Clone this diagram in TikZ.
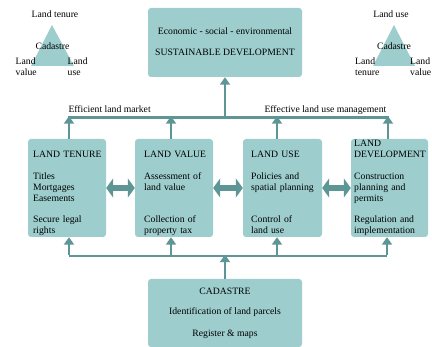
\documentclass[tikz,border=0pt]{standalone}
\usepackage{fontspec}
\setmainfont{Liberation Serif}
\usetikzlibrary{arrows.meta}
\definecolor{boxfill}{RGB}{157,205,205}
\definecolor{linkcol}{RGB}{94,150,150}

\begin{document}
\begin{tikzpicture}[x=1pt,y=-1pt,
  font=\fontsize{9.7}{11}\selectfont,
  panel/.style={fill=boxfill, rounded corners=3pt, inner sep=0pt, draw=none},
  txt/.style={anchor=base west, inner sep=0pt, align=left, text width=80pt},
  ctxt/.style={anchor=base, inner sep=0pt},
  ltxt/.style={anchor=base west, inner sep=0pt, align=left},
  feed/.style={draw=linkcol, line width=2.6pt, -{Triangle[width=10pt,length=7.5pt]}},
  bus/.style={draw=linkcol, line width=2.6pt},
  swap/.style={draw=linkcol, line width=6pt,
    {Triangle[width=19pt,length=7pt]}-{Triangle[width=19pt,length=7pt]}}]

\useasboundingbox (0,0) rectangle (432,347);

% main panels
\node[panel, minimum width=154pt, minimum height=69pt] (top) at (225,42.5) {};
\node[panel, minimum width=78pt, minimum height=98pt] (b1) at (67,188) {};
\node[panel, minimum width=78pt, minimum height=98pt] (b2) at (174,188) {};
\node[panel, minimum width=79pt, minimum height=98pt] (b3) at (282.5,188) {};
\node[panel, minimum width=77pt, minimum height=98pt] (b4) at (389.5,188) {};
\node[panel, minimum width=154pt, minimum height=68pt] (cad) at (225,313) {};

% sustainable development
\node[ctxt] (sd1) at (225,34.8) {Economic - social - environmental};
\node[ctxt] (sd2) at (225,56) {SUSTAINABLE DEVELOPMENT};

% cadastre panel
\node[ctxt] (c1) at (225,294.3) {CADASTRE};
\node[ctxt] (c2) at (225,314.8) {Identification of land parcels};
\node[ctxt] (c3) at (225,336.5) {Register \& maps};

% land tenure
\node[txt] (t1) at (33,157.5) {LAND TENURE};
\node[txt] (t2) at (33,180) {Titles\\Mortgages\\Easements};
\node[txt] (t3) at (33,223) {Secure legal\\rights};
% land value
\node[txt] (v1) at (144,157.5) {LAND VALUE};
\node[txt] (v2) at (144,180) {Assessment of\\land value};
\node[txt] (v3) at (144,223) {Collection of\\property tax};
% land use
\node[txt] (u1) at (251,157.5) {LAND USE};
\node[txt] (u2) at (251,180) {Policies and\\spatial planning};
\node[txt] (u3) at (251,223) {Control of\\land use};
% land development
\node[txt] (d1) at (354,146.5) {LAND\\DEVELOPMENT};
\node[txt] (d2) at (354,180) {Construction\\planning and\\permits};
\node[txt] (d3) at (354,223) {Regulation and\\implementation};

% triangles
\fill[boxfill] (52,25) -- (74,66) -- (31,66) -- cycle;
\fill[boxfill] (394,25) -- (415,66) -- (373,66) -- cycle;
\node[ctxt] (lt1) at (55,18) {Land tenure};
\node[ctxt] (lt2) at (52.5,49.5) {Cadastre};
\node[ltxt] (lt3) at (15.5,75.5) {Land\\value};
\node[ltxt] (lt4) at (67.5,75.5) {Land\\use};
\node[ctxt] (rt1) at (391,18) {Land use};
\node[ctxt] (rt2) at (394,49.5) {Cadastre};
\node[ltxt] (rt3) at (355,75.5) {Land\\tenure};
\node[ltxt] (rt4) at (410,75.5) {Land\\value};

% labels on upper bus
\node[ltxt] (m1) at (68.3,112.5) {Efficient land market};
\node[ltxt] (m2) at (264.3,112.5) {Effective land use management};

% upper bus
\coordinate (ua) at (69,117.5);
\coordinate (ub) at (171,117.5);
\coordinate (uc) at (277,117.5);
\coordinate (ud) at (388,117.5);
\coordinate (um) at (225,117.5);
\draw[bus] ([xshift=-1.3pt]ua) -- ([xshift=1.3pt]ud);
\draw[feed] (b1.north -| ua) -- ([yshift=1.3pt]ua);
\draw[feed] (b2.north -| ub) -- ([yshift=1.3pt]ub);
\draw[feed] (b3.north -| uc) -- ([yshift=1.3pt]uc);
\draw[feed] (b4.north -| ud) -- ([yshift=1.3pt]ud);
\draw[feed] ([yshift=1.3pt]um) -- (top.south);

% lower bus
\coordinate (la) at (69,256);
\coordinate (lb) at (171,256);
\coordinate (lc) at (277,256);
\coordinate (ld) at (387,256);
\coordinate (lm) at (225,256);
\draw[bus] (la) -- (ld);
\draw[feed] ([yshift=1.3pt]la) -- (b1.south -| la);
\draw[feed] (lb) -- (b2.south -| lb);
\draw[feed] (lc) -- (b3.south -| lc);
\draw[feed] ([yshift=1.3pt]ld) -- (b4.south -| ld);
\draw[feed] (cad.north) -- ([yshift=1.3pt]lm);

% exchanges between neighbouring panels
\draw[swap] (b1.east) -- (b2.west);
\draw[swap] (b2.east) -- (b3.west);
\draw[swap] (b3.east) -- (b4.west);
\end{tikzpicture}
\end{document}
